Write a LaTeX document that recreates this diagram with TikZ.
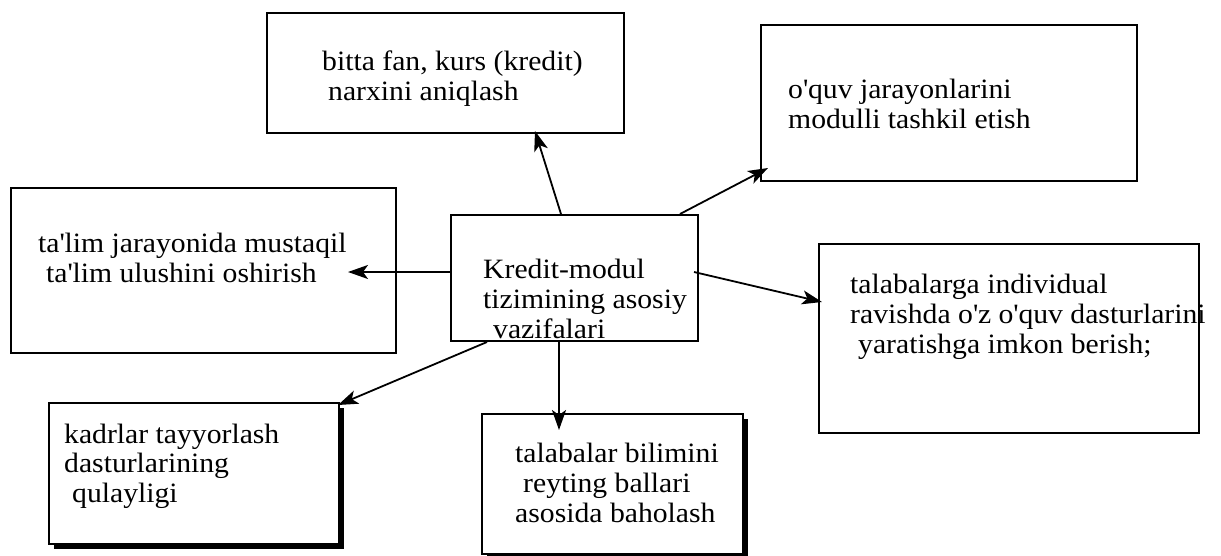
\documentclass[tikz,border=0pt]{standalone}
\usepackage{fontspec}
\setmainfont{Liberation Serif}[FakeStretch=1.06]
\usetikzlibrary{arrows.meta,shadows}
\newcommand{\q}{\textquotesingle}
\begin{document}
\begin{tikzpicture}[x=1pt,y=-1pt,
  box/.style={draw,line width=1.6pt,fill=white,inner sep=0pt,anchor=north west},
  shbox/.style={box,drop shadow={shadow xshift=5pt,shadow yshift=-5pt,fill=black,opacity=1}},
  txt/.style={anchor=base west,inner sep=0pt,font=\fontsize{28}{30}\selectfont},
  arr/.style={line width=1.8pt,-{Stealth[length=20pt,width=14pt,inset=5pt]}}]
\useasboundingbox (0,0) rectangle (1221,555);
% boxes
\node[box,minimum width=357pt,minimum height=120pt] (top) at (266,12) {};
\node[box,minimum width=376pt,minimum height=156pt] (tr) at (760,24) {};
\node[box,minimum width=385pt,minimum height=165pt] (lf) at (10,187) {};
\node[box,minimum width=247pt,minimum height=126pt] (ctr) at (450,214) {};
\node[box,minimum width=380pt,minimum height=189pt] (rt) at (818,243) {};
\node[shbox,minimum width=290pt,minimum height=141pt] (bl) at (48,402) {};
\node[shbox,minimum width=261pt,minimum height=140pt] (bm) at (481,413) {};
% texts
\node[txt] (top1) at (322,70) {bitta fan, kurs (kredit)};
\node[txt] (top2) at (328,100) {narxini aniqlash};
\node[txt] (tr1) at (788,98) {o\q quv jarayonlarini};
\node[txt] (tr2) at (788,128) {modulli tashkil etish};
\node[txt] (lf1) at (38,252) {ta\q lim jarayonida mustaqil};
\node[txt] (lf2) at (46,282) {ta\q lim ulushini oshirish};
\node[txt] (c1) at (483,278) {Kredit-modul};
\node[txt] (c2) at (483,308) {tizimining asosiy};
\node[txt] (c3) at (493,338) {vazifalari};
\node[txt] (rt1) at (850,293) {talabalarga individual};
\node[txt] (rt2) at (850,323) {ravishda o\q z o\q quv dasturlarini};
\node[txt] (rt3) at (858,353) {yaratishga imkon berish;};
\node[txt] (bl1) at (64,443) {kadrlar tayyorlash};
\node[txt] (bl2) at (64,472) {dasturlarining};
\node[txt] (bl3) at (72,502) {qulayligi};
\node[txt] (bm1) at (515,462) {talabalar bilimini};
\node[txt] (bm2) at (523,492) {reyting ballari};
\node[txt] (bm3) at (515,522) {asosida baholash};
% connector end points
\coordinate (s1) at (561,214); \coordinate (e1) at (535,131);
\coordinate (s2) at (680,214); \coordinate (e2) at (768,168);
\coordinate (s3) at (450,272); \coordinate (e3) at (348,272);
\coordinate (s4) at (694,272); \coordinate (e4) at (822,302);
\coordinate (s5) at (487,342); \coordinate (e5) at (338,405);
\coordinate (s6) at (559,340); \coordinate (e6) at (559,430);
\draw[arr] (s1) -- (e1);
\draw[arr] (s2) -- (e2);
\draw[arr] (s3) -- (e3);
\draw[arr] (s4) -- (e4);
\draw[arr] (s5) -- (e5);
\draw[arr] (s6) -- (e6);
\end{tikzpicture}
\end{document}
